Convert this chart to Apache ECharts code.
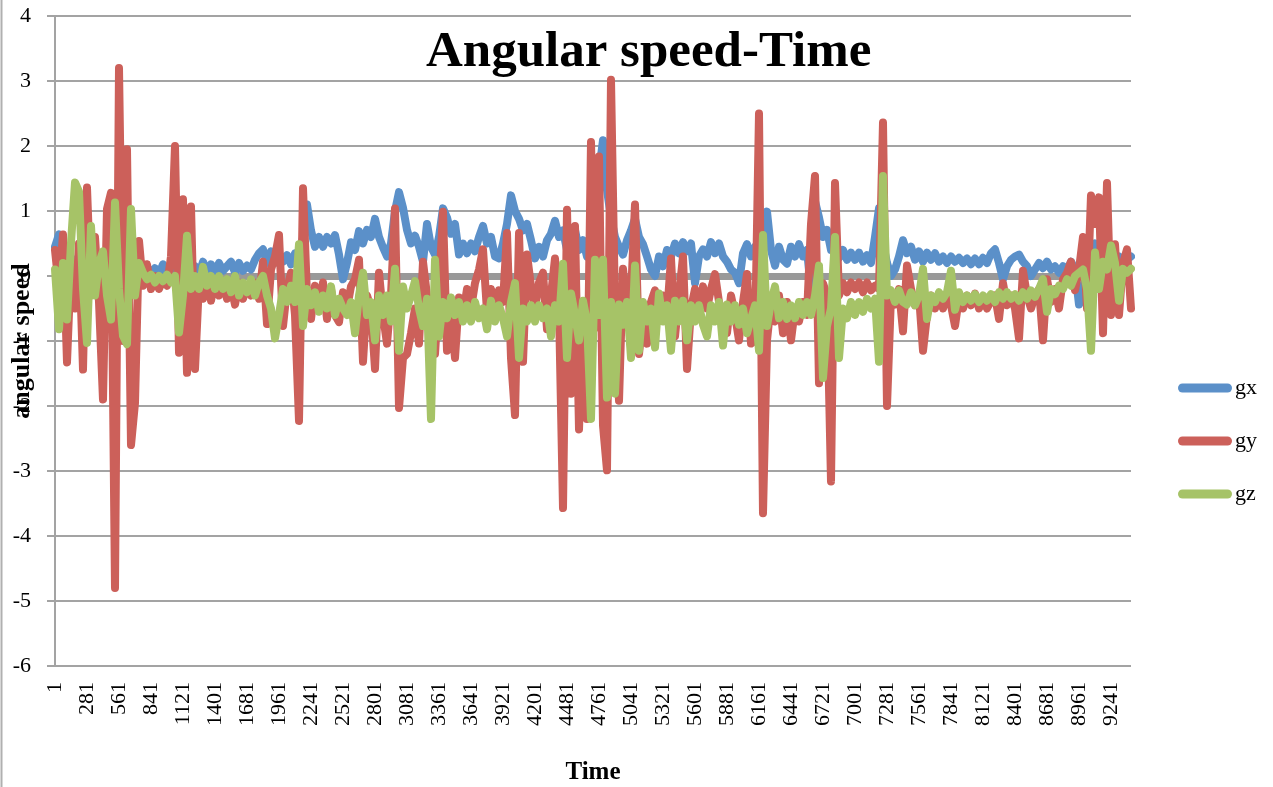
<!DOCTYPE html>
<html>
  <head>
    <meta charset="utf-8">
    <script src="https://cdn.jsdelivr.net/npm/echarts@6/dist/echarts.min.js"></script>
    <style>
      html, body { margin: 0; padding: 0; background: #fff; }
      #chart { width: 1273px; height: 787px; }
    </style>
  </head>
  <body>
    <div id="chart"></div>
    <script>
      // one reading every 35 samples (1, 36, 71, ...), labels every 8th -> 1, 281, 561 ...
      const sampleStep = 35;

      const gx = [
        0.45, 0.64, 0.35, 0.2, 0.1, 0.25, 0.15, 0.05, 0.2, 0.1,
        0.15, 0.0, 0.2, 0.3, 0.1, 0.2, 0.15, 0.25, 0.1, 0.2,
        0.05, 0.2, 0.02, 0.15, 0.0, 0.12, 0.03, 0.18, 0.02, 0.1,
        0.0, 0.12, 0.03, 0.2, 0.05, 0.15, 0.02, 0.22, 0.05, 0.18,
        0.05, 0.2, 0.08, 0.15, 0.22, 0.05, 0.2, 0.08, 0.16, 0.1,
        0.25, 0.35, 0.41, 0.2, 0.38, 0.2, 0.35, 0.22, 0.32, 0.18,
        0.35, 0.25, 0.6, 1.1, 0.7, 0.45, 0.6, 0.45, 0.6, 0.5,
        0.63, 0.33, -0.05, 0.2, 0.52, 0.4, 0.69, 0.5, 0.71, 0.6,
        0.88, 0.6, 0.44, 0.3, 0.5, 1.0, 1.29, 1.05, 0.71, 0.5,
        0.62, 0.45, 0.22, 0.8, 0.45, 0.33, 0.6, 1.04, 0.9, 0.65,
        0.8, 0.33, 0.5, 0.35, 0.5, 0.38, 0.6, 0.77, 0.5, 0.6,
        0.3, 0.27, 0.5, 0.8, 1.24, 1.0, 0.88, 0.7, 0.8, 0.55,
        0.27, 0.45, 0.3, 0.55, 0.65, 0.85, 0.6, 0.7, 0.4, 0.5,
        0.71, 0.4, 0.55, 0.3, 0.7, 1.0, 1.6, 2.09, 1.32, 0.9,
        0.6, 0.45, 0.33, 0.55, 0.7, 0.88, 0.6, 0.49, 0.3, 0.1,
        0.0, 0.3, 0.15, 0.4, 0.3, 0.5, 0.35, 0.52, 0.38, 0.5,
        -0.11, 0.3, 0.41, 0.3, 0.52, 0.35, 0.5, 0.3, 0.22, 0.1,
        0.05, -0.11, 0.35, 0.49, 0.3, 0.45, 0.3, 0.6, 0.99, 0.4,
        0.16, 0.45, 0.25, 0.19, 0.45, 0.3, 0.49, 0.3, 0.4, -0.22,
        1.15, 0.9, 0.6, 0.71, 0.4, 0.44, 0.28, 0.4, 0.25, 0.36,
        0.25, 0.36, 0.22, 0.32, 0.2, 0.6, 1.04, 0.5, 0.2, 0.0,
        0.1, 0.3, 0.55, 0.35, 0.45, 0.25, 0.38, 0.22, 0.36, 0.25,
        0.35, 0.22, 0.3, 0.2, 0.3, 0.22, 0.28, 0.2, 0.27, 0.18,
        0.27, 0.18, 0.28, 0.2, 0.35, 0.41, 0.2, -0.05, 0.15, 0.25,
        0.3, 0.33, 0.22, 0.15, 0.0, 0.1, 0.2, 0.12, 0.22, 0.1,
        0.15, 0.05, 0.15, 0.08, 0.22, 0.1, -0.44, -0.3, 0.2, 0.4,
        0.5, 0.3, 0.4, 0.6, 0.35, 0.2, 0.3, 0.1, 0.25, 0.3
      ];

      const gy = [
        0.4, -0.2, 0.64, -1.33, 0.2, -0.5, 0.5, -1.44, 1.36, -0.3,
        0.6, -0.4, -1.9, 1.03, 1.28, -4.8, 3.2, -1.0, 1.95, -2.6,
        -1.95, 0.54, -0.15, 0.18, -0.2, 0.0, -0.2, -0.05, -0.15, 0.3,
        2.0, -1.18, 1.18, -1.49, 1.07, -1.43, -0.1, -0.35, -0.1, -0.38,
        -0.05, -0.3, -0.1, -0.35, -0.15, -0.44, -0.1, -0.35, -0.15, -0.3,
        -0.1, -0.35, 0.22, -0.74, 0.1, 0.3, 0.63, -0.77, -0.2, 0.05,
        -0.6, -2.23, 1.35, -0.3, -0.66, -0.15, -0.45, -0.1, -0.66, -0.2,
        -0.6, -0.71, -0.25, -0.5, -0.16, -0.05, 0.25, -1.32, -0.3, -0.5,
        -1.43, 0.05, -0.6, -1.04, -0.3, 1.04, -2.03, -1.26, -1.2, -0.88,
        -0.5, -1.04, 0.22, -0.3, -0.6, -1.2, -0.2, 0.99, -1.15, -0.6,
        -1.26, -0.33, -0.6, -0.2, -0.5, -0.11, 0.1, 0.41, -0.55, -0.2,
        -0.5, -0.22, -0.4, 0.66, -1.26, -2.14, 0.66, -1.32, 0.33, -0.16,
        -0.5, -0.1, 0.05, -0.82, -0.3, 0.27, -0.5, -3.57, 1.02, -1.81,
        0.77, -2.36, -0.5, -2.2, 2.06, -0.8, 1.84, -2.3, -2.99, 3.02,
        -0.5, -1.92, 0.11, -0.5, -0.3, 1.1, -1.2, -0.6, -1.04, -0.4,
        -0.22, -0.6, -0.3, -0.6, 0.27, -0.93, -0.3, 0.3, -1.43, -0.5,
        -0.2, -0.5, -0.16, -0.5, -0.2, 0.03, -0.4, -0.6, -0.88, -0.3,
        -0.6, -0.99, -0.4, 0.03, -1.04, -0.99, 2.5, -3.65, -0.99, -0.4,
        -0.7, -0.3, -0.88, -0.4, -0.99, -0.5, -0.7, -0.4, -0.6, 0.8,
        1.54, -1.65, -0.11, -0.3, -3.16, 1.43, -0.3, -0.11, -0.25, -0.1,
        -0.2, -0.1, -0.25, -0.1, -0.22, -0.15, -0.2, 2.36, -2.0, -0.3,
        -0.44, -0.2, -0.85, 0.16, -0.2, -0.45, -0.3, -1.15, -0.6, -0.3,
        -0.5, -0.3, -0.5, -0.3, -0.45, -0.77, -0.33, -0.5, -0.3, -0.45,
        -0.27, -0.5, -0.35, -0.5, -0.38, -0.3, -0.66, -0.11, -0.45, -0.3,
        -0.5, -0.96, 0.08, -0.3, -0.5, -0.3, -0.2, -0.99, -0.05, -0.4,
        -0.2, -0.5, -0.05, 0.05, 0.22, -0.22, 0.1, 0.6, -0.5, 1.24,
        0.8, 1.21, -0.88, 1.43, -0.6, 0.49, -0.6, 0.2, 0.41, -0.5
      ];

      const gz = [
        0.1, -0.82, 0.2, -0.67, 0.51, 1.44, 1.3, -0.2, -1.03, 0.77,
        -0.3, 0.2, 0.38, -0.3, -0.67, 1.13, -0.2, -0.92, -1.05, 1.03,
        -0.3, 0.2, 0.05, -0.05, 0.02, -0.1, 0.0, -0.08, 0.02, -0.1,
        0.0, -0.87, -0.3, 0.62, -0.2, 0.0, -0.2, 0.14, -0.15, 0.0,
        -0.2, 0.0, -0.2, -0.05, -0.25, 0.0, -0.3, -0.1, -0.25, -0.05,
        -0.3, -0.1, 0.0, -0.3, -0.5, -0.96, -0.6, -0.2, -0.4, -0.15,
        -0.4, 0.49, -0.77, -0.2, -0.45, -0.25, -0.55, -0.3, -0.5, -0.16,
        -0.6, -0.35, -0.5, -0.6, -0.4, -0.88, -0.3, 0.05, -0.6, -0.4,
        -0.99, -0.3, -0.6, -0.3, -0.7, 0.11, -1.15, -0.16, -0.5, -0.3,
        -0.08, -0.5, -0.77, -0.35, -2.2, 0.25, -0.93, -0.4, -0.65, -0.33,
        -0.6, -0.4, -0.7, -0.45, -0.7, -0.4, -0.65, -0.5, -0.82, -0.38,
        -0.7, -0.45, -0.65, -0.93, -0.4, -0.11, -1.26, -0.5, -0.7, -0.45,
        -0.7, -0.45, -0.65, -0.5, -0.93, -0.45, -0.7, 0.19, -1.26, -0.27,
        -0.6, -0.99, -0.38, -0.7, -2.2, 0.25, -0.6, 0.25, -1.87, -0.4,
        -1.81, -0.44, -0.75, -0.4, -1.26, 0.16, -1.15, -0.4, -0.7, -0.5,
        -1.1, -0.27, -0.7, -0.45, -1.15, -0.38, -0.7, -0.38, -0.99, -0.45,
        -0.7, -0.45, -0.75, -0.93, -0.45, -0.7, -0.4, -1.07, -0.44, -0.7,
        -0.45, -0.75, -0.5, -0.88, -0.66, -0.45, -1.15, 0.63, -0.77, -0.4,
        -0.16, -0.65, -0.4, -0.66, -0.45, -0.65, -0.4, -0.6, -0.4, -0.6,
        -0.3, 0.16, -1.57, -0.77, -0.5, 0.6, -1.26, -0.5, -0.65, -0.4,
        -0.6, -0.4, -0.55, -0.35, -0.5, -0.35, -1.32, 1.54, -0.3, -0.22,
        -0.4, -0.22, -0.4, -0.44, -0.25, -0.45, -0.3, 0.11, -0.66, -0.3,
        -0.4, -0.25, -0.35, -0.25, 0.08, -0.52, -0.25, -0.4, -0.3, -0.38,
        -0.28, -0.4, -0.3, -0.38, -0.28, -0.4, -0.25, -0.35, -0.25, -0.35,
        -0.28, -0.38, -0.25, -0.35, -0.22, -0.32, -0.2, -0.05, -0.55, -0.2,
        -0.28, -0.15, -0.2, -0.05, -0.15, 0.0, 0.05, 0.1, -0.2, -1.15,
        0.36, -0.2, 0.22, 0.1, 0.47, 0.2, -0.38, 0.11, 0.05, 0.11
      ];

      const times = gx.map((v, i) => String(1 + i * sampleStep));

      const serif = 'Liberation Serif';
      const gridGray = '#a3a3a3';

      const chart = echarts.init(document.getElementById('chart'));
      chart.setOption({
        animation: false,
        backgroundColor: '#fff',
        title: {
          text: 'Angular speed-Time',
          left: 421,
          top: 22,
          textStyle: { fontFamily: serif, fontSize: 51, fontWeight: 'bold', color: '#000' }
        },
        legend: {
          orient: 'vertical',
          left: 1173,
          top: 372,
          itemWidth: 60,
          itemHeight: 9,
          itemGap: 31,
          icon: 'path://M5,0 H55 A5,5 0 0 1 55,10 H5 A5,5 0 0 1 5,0 Z',
          data: ['gx', 'gy', 'gz'],
          textStyle: { fontFamily: serif, fontSize: 22, color: '#000', padding: [8, 0, 0, -5] }
        },
        grid: { left: 55, right: 142, top: 16, bottom: 121, outerBoundsMode: 'none', containLabel: false },
        xAxis: {
          type: 'category',
          data: times,
          boundaryGap: false,
          name: 'Time',
          nameLocation: 'middle',
          nameGap: 94,
          nameMoveOverlap: false,
          nameTextStyle: { fontFamily: serif, fontSize: 25, fontWeight: 'bold', color: '#000' },
          axisLine: { lineStyle: { color: gridGray, width: 2 } },
          axisTick: { show: false },
          axisLabel: {
            interval: 7,
            rotate: 90,
            margin: 16,
            fontFamily: serif,
            fontSize: 22,
            color: '#000'
          },
          splitLine: { show: false }
        },
        yAxis: {
          type: 'value',
          min: -6,
          max: 4,
          interval: 1,
          name: 'angular speed',
          nameLocation: 'middle',
          nameRotate: 90,
          nameGap: 20,
          nameMoveOverlap: false,
          nameTextStyle: { fontFamily: serif, fontSize: 26, fontWeight: 'bold', color: '#000' },
          axisLine: { show: true, lineStyle: { color: gridGray, width: 2 } },
          axisTick: { show: true, length: 8, lineStyle: { color: gridGray, width: 2 } },
          axisLabel: { margin: 24, fontFamily: serif, fontSize: 22, color: '#000' },
          splitLine: { lineStyle: { color: gridGray, width: 2 } }
        },
        series: [
          {
            name: 'gx',
            type: 'line',
            data: gx,
            symbol: 'none',
            color: '#5b90c9',
            lineStyle: { width: 8, cap: 'round', join: 'round' },
            markLine: {
              silent: true,
              z: 1,
              symbol: 'none',
              label: { show: false },
              lineStyle: { color: '#999', width: 7, type: 'solid' },
              data: [{ yAxis: 0 }]
            }
          },
          {
            name: 'gy',
            type: 'line',
            data: gy,
            symbol: 'none',
            color: '#cc605a',
            lineStyle: { width: 8, cap: 'round', join: 'round' }
          },
          {
            name: 'gz',
            type: 'line',
            data: gz,
            symbol: 'none',
            color: '#a6c367',
            lineStyle: { width: 8, cap: 'round', join: 'round' }
          }
        ],
        graphic: [{
          type: 'line',
          shape: { x1: 1.5, y1: 0, x2: 1.5, y2: 787 },
          style: { stroke: '#b0b0b0', lineWidth: 2 }
        }]
      });
    </script>
  </body>
</html>
